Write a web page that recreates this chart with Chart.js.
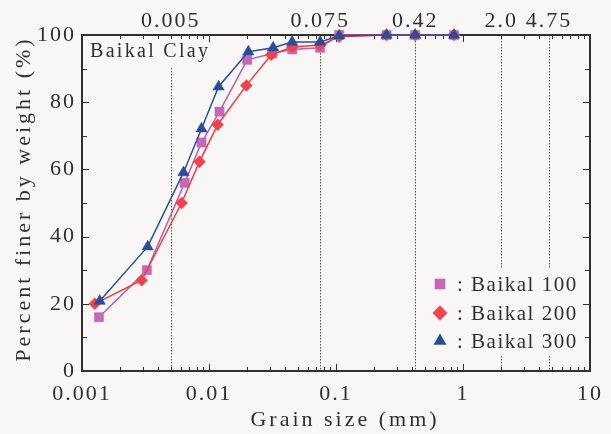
<!DOCTYPE html>
<html><head><meta charset="utf-8">
<script src="https://cdn.jsdelivr.net/npm/chart.js@4.4.1/dist/chart.umd.min.js"></script>
<style>html,body{margin:0;padding:0;background:#f9f7f6;}</style>
</head><body>
<canvas id="c" width="611" height="434"></canvas>
<script>
// ---- data ----
const seriesNames = ['Baikal 100', 'Baikal 200', 'Baikal 300'];
const grainSize100 = [0.00136, 0.00324, 0.00643, 0.00873, 0.0121, 0.0200, 0.0315, 0.0452, 0.075, 0.106, 0.25, 0.42, 0.85];
const finer100     = [16, 30, 56, 68, 77.2, 92.6, 94.5, 95.7, 96.2, 100, 100, 100, 100];
const grainSize200 = [0.00126, 0.00295, 0.00608, 0.00842, 0.0117, 0.0197, 0.0309, 0.0452, 0.075, 0.106, 0.25, 0.42, 0.85];
const finer200     = [20, 27, 50, 62.3, 73.3, 85, 94.1, 96.4, 97, 99.5, 100, 100, 100];
const grainSize300 = [0.00138, 0.00329, 0.0063, 0.00873, 0.0119, 0.0204, 0.032, 0.0452, 0.075, 0.106, 0.25, 0.42, 0.85];
const finer300     = [20.8, 37, 59.1, 72.1, 84.6, 95, 96.2, 97.9, 97.9, 99.8, 100, 100, 100];
const bottomTickValues = [0.001, 0.01, 0.1, 1, 10];
const bottomTickLabels = ['0.001', '0.01', '0.1', '1', '10'];
const topTickValues = [0.005, 0.075, 0.42, 2.0, 4.75];
const topTickLabels = ['0.005', '0.075', '0.42', '2.0', '4.75'];
const chartLabel = 'Baikal Clay';
const xTitle = 'Grain size (mm)';
const yTitle = 'Percent finer by weight (%)';

// ---- styles ----
const BG = '#f9f7f6';
const INK = '#303030';
const FONT = "'Liberation Serif', 'Times New Roman', serif";
const colors = [
  {fill: '#c468b8', line: '#b95eb0', style: 'rect', radius: 6.5},
  {fill: '#f2424c', line: '#f23a3e', style: 'rectRot', radius: 6},
  {fill: '#2b4c9b', line: '#2a50a5', style: 'triangle', radius: 6.5}
];
const xs = [grainSize100, grainSize200, grainSize300];
const ys = [finer100, finer200, finer300];
const drawOrder = [2, 1, 0];

const datasets = seriesNames.map((name, i) => ({
  label: name,
  data: xs[i].map((x, j) => ({x: x, y: ys[i][j]})),
  showLine: true,
  borderColor: colors[i].line,
  backgroundColor: colors[i].fill,
  borderWidth: 1.5,
  pointStyle: colors[i].style,
  pointRadius: colors[i].radius,
  pointBorderWidth: 0.5,
  pointBorderColor: colors[i].fill,
  pointBackgroundColor: colors[i].fill,
  clip: false,
  order: drawOrder[i]
}));

function marker(ctx, style, x, y, r, color) {
  ctx.save();
  ctx.fillStyle = color;
  ctx.beginPath();
  if (style === 'rect') {
    const s = r * Math.SQRT1_2;
    ctx.rect(x - s, y - s, 2 * s, 2 * s);
  } else if (style === 'rectRot') {
    ctx.moveTo(x, y - r); ctx.lineTo(x + r, y); ctx.lineTo(x, y + r); ctx.lineTo(x - r, y); ctx.closePath();
  } else {
    const h = r * 0.5, w = r * Math.sin(Math.PI / 3);
    ctx.moveTo(x, y - r); ctx.lineTo(x + w, y + h); ctx.lineTo(x - w, y + h); ctx.closePath();
  }
  ctx.fill();
  ctx.restore();
}

const decor = {
  id: 'decor',
  beforeDraw(chart) {
    const ctx = chart.ctx;
    ctx.save();
    ctx.fillStyle = BG;
    ctx.fillRect(0, 0, chart.width, chart.height);
    ctx.restore();
    ctx.letterSpacing = '2px';
  },
  beforeDatasetsDraw(chart) {
    const ctx = chart.ctx, a = chart.chartArea;
    const sx = chart.scales.x, sy = chart.scales.y;
    ctx.save();
    // dotted reference lines
    ctx.strokeStyle = '#555';
    ctx.lineWidth = 1;
    ctx.setLineDash([1.5, 1.5]);
    topTickValues.forEach(v => {
      const px = Math.round(sx.getPixelForValue(v)) + 0.5;
      ctx.beginPath(); ctx.moveTo(px, a.top); ctx.lineTo(px, a.bottom); ctx.stroke();
    });
    ctx.setLineDash([]);
    // label box
    ctx.fillStyle = BG;
    ctx.fillRect(a.left + 1, a.top + 1, 130, 32);
    // legend box
    ctx.fillRect(428, 268, a.right - 429, 88);
    // frame
    ctx.strokeStyle = INK;
    ctx.lineWidth = 2;
    ctx.strokeRect(a.left, a.top, a.right - a.left, a.bottom - a.top);
    // inward ticks
    ctx.lineWidth = 1;
    for (let d = -3; d <= 1; d++) {
      for (let m = 1; m <= 9; m++) {
        const v = m * Math.pow(10, d);
        if (v > 10.0001) break;
        const px = Math.round(sx.getPixelForValue(v)) + 0.5;
        const len = m === 1 ? 7 : 4;
        ctx.beginPath();
        ctx.moveTo(px, a.bottom); ctx.lineTo(px, a.bottom - len);
        ctx.moveTo(px, a.top); ctx.lineTo(px, a.top + len);
        ctx.stroke();
      }
    }
    for (let v = 0; v <= 100; v += 10) {
      const py = Math.round(sy.getPixelForValue(v)) + 0.5;
      const len = v % 20 === 0 ? 7 : 5;
      ctx.beginPath();
      ctx.moveTo(a.left, py); ctx.lineTo(a.left + len, py);
      ctx.moveTo(a.right, py); ctx.lineTo(a.right - len, py);
      ctx.stroke();
    }
    // chart label
    ctx.fillStyle = INK;
    ctx.letterSpacing = '2.3px';
    ctx.font = '20px ' + FONT;
    ctx.textAlign = 'left';
    ctx.textBaseline = 'middle';
    ctx.fillText(chartLabel, a.left + 8, a.top + 17);
    // legend
    ctx.letterSpacing = '1.5px';
    ctx.font = '21px ' + FONT;
    const rows = [284, 313, 341];
    seriesNames.forEach((name, i) => {
      marker(ctx, colors[i].style, 440, rows[i], 7.5, colors[i].fill);
      ctx.fillStyle = INK;
      ctx.fillText(': ' + name, 457, rows[i] + 1);
    });
    // axis titles
    ctx.letterSpacing = '3px';
    ctx.font = '22px ' + FONT;
    ctx.textAlign = 'center';
    ctx.fillText(xTitle, (a.left + a.right) / 2 + 9, 420);
    ctx.save();
    ctx.translate(24, 199);
    ctx.rotate(-Math.PI / 2);
    ctx.fillText(yTitle, 0, 0);
    ctx.restore();
    ctx.restore();
  }
};

new Chart(document.getElementById('c'), {
  type: 'scatter',
  data: {datasets: datasets},
  plugins: [decor],
  options: {
    responsive: false,
    animation: false,
    devicePixelRatio: 1,
    layout: {padding: {top: 0, right: 19, bottom: 0, left: 0}},
    plugins: {legend: {display: false}, tooltip: {enabled: false}},
    scales: {
      x: {
        type: 'logarithmic', position: 'bottom', min: 0.001, max: 10,
        grid: {display: false, tickLength: 0}, border: {display: false},
        afterBuildTicks: s => { s.ticks = bottomTickValues.map(v => ({value: v})); },
        afterFit: s => { s.height = 63; },
        ticks: {autoSkip: false, maxRotation: 0, padding: 10, color: INK,
          font: {family: FONT, size: 22},
          callback: (v, i) => bottomTickLabels[i]}
      },
      x2: {
        type: 'logarithmic', position: 'top', min: 0.001, max: 10,
        grid: {display: false, tickLength: 0}, border: {display: false},
        afterBuildTicks: s => { s.ticks = topTickValues.map(v => ({value: v})); },
        afterFit: s => { s.height = 35; },
        ticks: {autoSkip: false, maxRotation: 0, padding: 1, color: INK,
          font: {family: FONT, size: 22},
          callback: (v, i) => topTickLabels[i]}
      },
      y: {
        min: 0, max: 100,
        grid: {display: false, tickLength: 0}, border: {display: false},
        afterFit: s => { s.width = 82; },
        ticks: {stepSize: 20, padding: 6, color: INK, font: {family: FONT, size: 22}}
      }
    }
  }
});
</script>
</body></html>
